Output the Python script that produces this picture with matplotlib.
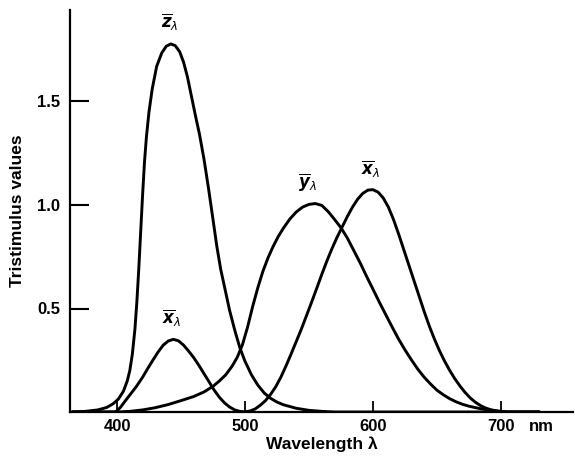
import matplotlib
matplotlib.use("Agg")
import matplotlib.pyplot as plt

# Colour-matching functions (wavelength nm, value)
z_wl = [365, 375, 385, 392, 397, 401, 405, 408, 410, 412, 414, 415.5, 417, 418.5, 420,
        421.5, 423, 425, 427.5, 431, 435, 438.5, 442, 445.5, 449, 452, 455, 458, 461,
        464.5, 468, 471.5, 475, 478, 481, 484.5, 488, 492, 496, 500, 505, 510, 515, 520,
        525, 530, 540, 550, 560, 570, 600, 650, 700, 730]
z_val = [0.000, 0.003, 0.010, 0.022, 0.040, 0.062, 0.100, 0.150, 0.200, 0.280, 0.400,
         0.530, 0.690, 0.870, 1.050, 1.210, 1.330, 1.450, 1.560, 1.670, 1.735, 1.767,
         1.778, 1.770, 1.740, 1.690, 1.620, 1.530, 1.440, 1.340, 1.220, 1.080, 0.930,
         0.800, 0.690, 0.590, 0.490, 0.395, 0.310, 0.245, 0.180, 0.130, 0.092, 0.066,
         0.048, 0.035, 0.018, 0.008, 0.003, 0.000, 0.000, 0.000, 0.000, 0.000]

x_wl = [365, 380, 398, 400, 403, 406, 410, 415, 420, 424, 428, 432, 436, 440, 444, 448,
        452, 456, 460, 464, 468, 472, 476, 480, 484, 488, 492, 496, 500, 504, 508, 512,
        516, 520, 524, 528, 532, 536, 540, 544, 548, 552, 556, 560, 564, 568, 572, 576,
        580, 584, 588, 592, 596, 600, 604, 608, 612, 616, 620, 624, 628, 632, 636, 640,
        644, 648, 652, 656, 660, 664, 668, 672, 676, 680, 684, 688, 692, 696, 700, 704,
        730]
x_val = [0.000, 0.000, 0.000, 0.005, 0.025, 0.050, 0.082, 0.122, 0.168, 0.210, 0.250,
         0.289, 0.322, 0.343, 0.351, 0.344, 0.323, 0.294, 0.262, 0.225, 0.185, 0.145,
         0.105, 0.071, 0.044, 0.024, 0.010, 0.003, 0.001, 0.005, 0.015, 0.033, 0.055,
         0.085, 0.122, 0.168, 0.222, 0.280, 0.340, 0.400, 0.465, 0.530, 0.597, 0.665,
         0.730, 0.790, 0.845, 0.895, 0.945, 0.990, 1.028, 1.056, 1.072, 1.074, 1.062,
         1.034, 0.990, 0.930, 0.860, 0.785, 0.710, 0.635, 0.560, 0.485, 0.415, 0.352,
         0.295, 0.245, 0.200, 0.160, 0.125, 0.094, 0.068, 0.047, 0.031, 0.019, 0.011,
         0.006, 0.002, 0.000, 0.000]

y_wl = [365, 400, 410, 420, 430, 440, 450, 460, 468, 475, 480, 485, 490, 494, 498, 502,
        506, 510, 514, 518, 522, 526, 530, 535, 540, 545, 550, 555, 560, 565, 570, 575,
        580, 585, 590, 595, 600, 605, 610, 615, 620, 625, 630, 635, 640, 645, 650, 655,
        660, 665, 670, 675, 680, 685, 690, 695, 700, 705, 730]
y_val = [0.000, 0.000, 0.003, 0.010, 0.021, 0.036, 0.055, 0.075, 0.097, 0.124, 0.150,
         0.180, 0.222, 0.265, 0.325, 0.410, 0.510, 0.600, 0.680, 0.745, 0.800, 0.848,
         0.888, 0.932, 0.966, 0.990, 1.003, 1.007, 0.998, 0.968, 0.930, 0.890, 0.840,
         0.780, 0.720, 0.655, 0.593, 0.530, 0.470, 0.410, 0.352, 0.300, 0.252, 0.207,
         0.168, 0.135, 0.105, 0.083, 0.064, 0.049, 0.037, 0.028, 0.021, 0.015, 0.010,
         0.006, 0.003, 0.000, 0.000]

x_ticks = [400, 500, 600, 700]
x_tick_labels = ["400", "500", "600", "700"]
y_ticks = [0.5, 1.0, 1.5]
y_tick_labels = ["0.5", "1.0", "1.5"]

curve_labels = [r"$\overline{\boldsymbol{z}}_{\lambda}$", r"$\overline{\boldsymbol{x}}_{\lambda}$",
                r"$\overline{\boldsymbol{y}}_{\lambda}$", r"$\overline{\boldsymbol{x}}_{\lambda}$"]
curve_label_pos = [(441, 1.88), (443, 0.45), (549, 1.11), (598, 1.17)]

plt.rcParams["font.family"] = ["Liberation Sans", "DejaVu Sans"]
plt.rcParams["mathtext.fontset"] = "dejavusans"

W, H = 575, 462
PX_PER_NM = 1.28
PX_PER_UNIT = 207
x0_px, y0_px = 70, 412
x_right_px, y_top_px = 573, 10

fig = plt.figure(figsize=(W / 100, H / 100), dpi=100)
ax = fig.add_axes([x0_px / W, (H - y0_px) / H, (x_right_px - x0_px) / W, (y0_px - y_top_px) / H])

for wl, vals in ((x_wl, x_val), (y_wl, y_val), (z_wl, z_val)):
    ax.plot(wl, vals, color="black", lw=2.1, solid_capstyle="round", solid_joinstyle="round")

xmin = 500 - (245 - x0_px) / PX_PER_NM
xmax = 500 + (x_right_px - 245) / PX_PER_NM
ax.set_xlim(xmin, xmax)
ax.set_ylim(0, (y0_px - y_top_px) / PX_PER_UNIT)

for s in ("top", "right"):
    ax.spines[s].set_visible(False)
for s in ("left", "bottom"):
    ax.spines[s].set_linewidth(1.6)

ax.set_xticks(x_ticks)
ax.set_xticklabels(x_tick_labels, fontsize=12, fontweight="bold")
ax.set_yticks(y_ticks)
ax.set_yticklabels(y_tick_labels, fontsize=12, fontweight="bold")
ax.tick_params(axis="x", direction="in", length=8, width=1.3, pad=5)
ax.tick_params(axis="y", direction="in", length=13.5, width=1.5, pad=7)

ax.annotate("nm", xy=(722, 0), xycoords=("data", "axes fraction"),
            xytext=(0, -5), textcoords="offset points", ha="left", va="top",
            fontsize=12, fontweight="bold")

ax.set_xlabel("Wavelength λ", fontsize=12.5, fontweight="bold", labelpad=2)
ax.set_ylabel("Tristimulus values", fontsize=12.5, fontweight="bold", labelpad=9)

for lab, (lx, ly) in zip(curve_labels, curve_label_pos):
    ax.text(lx, ly, lab, ha="center", va="center", fontsize=12)

fig.savefig("out.png", dpi=100)
